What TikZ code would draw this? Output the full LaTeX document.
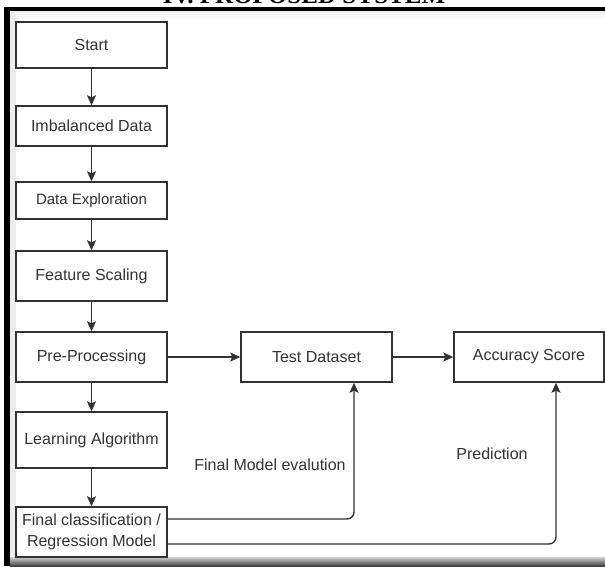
\documentclass[tikz,border=0pt]{standalone}
\usepackage{fontspec}
\setmainfont{Liberation Sans}
\newfontfamily\titlefont{Liberation Serif}
\usepackage{xcolor}
\usepackage{tikz}
\usetikzlibrary{arrows.meta, positioning}
\definecolor{flowgray}{RGB}{51, 51, 51}
\definecolor{edgegray}{RGB}{238, 238, 238}

\begin{document}
\begin{tikzpicture}[x=1pt, y=-1pt,
    box/.style={draw=flowgray, line width=1.4pt, rectangle, minimum width=151pt,
        inner sep=2pt, text=flowgray, align=center, font=\fontsize{16}{21}\selectfont},
    flow/.style={draw=flowgray, line width=1.4pt, -{Stealth[length=10pt, width=9pt, inset=2pt]}},
    note/.style={text=flowgray, font=\fontsize{16}{18}\selectfont}]
\useasboundingbox (0,0) rectangle (605,566);

% Frame
\fill[white] (0,0) rectangle (605,566);
\shade[top color=edgegray, bottom color=white] (10,11) rectangle (605,20);
\fill[edgegray] (10,11) rectangle (16,558);
\shade[top color=gray!35, bottom color=black!75] (10,557) rectangle (605,566);
\fill[black] (4,7) rectangle (605,11);
\fill[black] (4,7) rectangle (10,566);
\node[font=\titlefont\fontsize{25}{25}\selectfont\bfseries, anchor=base, inner sep=0pt] (title) at (304,3) {IV. PROPOSED SYSTEM};

% Main pipeline
\node[box, minimum height=46pt] (start) at (91.5,45) {Start};
\node[box, minimum height=40pt] (imbalanced) at (91.5,126) {Imbalanced Data};
\node[box, minimum height=37pt, font=\fontsize{15}{18}\selectfont] (explore) at (91.5,200.5) {Data Exploration};
\node[box, minimum height=50pt] (scaling) at (91.5,276) {Feature Scaling};
\node[box, minimum height=50pt] (preproc) at (91.5,357) {Pre-Processing};
\node[box, minimum height=56pt] (learning) at (91.5,440) {Learning Algorithm};
\node[box, minimum height=50pt] (final) at (91.5,532) {Final classification /\\Regression Model};

\foreach \a/\b in {start/imbalanced, imbalanced/explore, explore/scaling,
    scaling/preproc, preproc/learning, learning/final} {
    \draw[flow] (\a.south) -- (\b.north);
}

% Evaluation
\node[box, minimum height=50pt] (test) at (316.5,357) {Test Dataset};
\node[box, minimum height=50pt, minimum width=150pt] (accuracy) at (529,357) {Accuracy Score};
\draw[flow] (preproc.east) -- (test.west);
\draw[flow] (test.east) -- (accuracy.west);

\draw[flow, rounded corners=7pt] ([yshift=13pt]final.east) -| ([xshift=37.5pt]test.south);
\draw[flow, rounded corners=7pt] ([yshift=-12pt]final.east) -| ([xshift=27pt]accuracy.south);
\node[note] (evallabel) at (270,465) {Final Model evalution};
\node[note] (predlabel) at (492,454) {Prediction};
\end{tikzpicture}
\end{document}
